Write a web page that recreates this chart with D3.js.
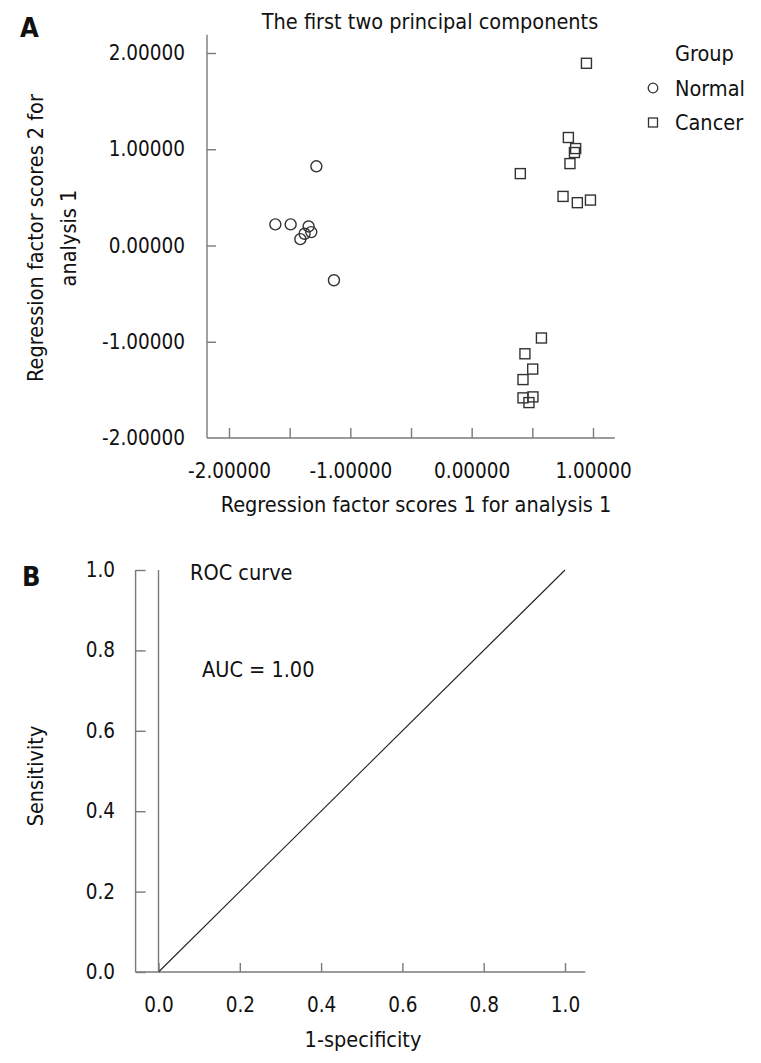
<!DOCTYPE html>
<html>
<head>
<meta charset="utf-8">
<script src="https://cdn.jsdelivr.net/npm/d3@7"></script>
<style>
  html, body { margin: 0; padding: 0; background: #fff; }
  svg text { font-family: "DejaVu Sans Condensed", "DejaVu Sans", sans-serif; fill: #111; }
</style>
</head>
<body>
<svg id="chart" width="761" height="1063"></svg>
<script>
// ---- Panel A data (PCA scores) ----
const normalX = [-1.280, -1.618, -1.492, -1.344, -1.377, -1.322, -1.412, -1.135];
const normalY = [0.823, 0.219, 0.219, 0.198, 0.122, 0.139, 0.066, -0.361];
const cancerX = [0.946, 0.797, 0.857, 0.847, 0.810, 0.401, 0.753, 0.871, 0.979,
                 0.575, 0.439, 0.503, 0.423, 0.423, 0.505, 0.472];
const cancerY = [1.893, 1.122, 1.007, 0.966, 0.851, 0.747, 0.510, 0.445, 0.472,
                 -0.961, -1.125, -1.284, -1.393, -1.583, -1.573, -1.632];
const xTicksA = [-2, -1.5, -1, -0.5, 0, 0.5, 1];
const yTicksA = [-2, -1, 0, 1, 2];
const groups = ["Normal", "Cancer"];

// ---- Panel B data (ROC) ----
const rocX = [0, 0];
const rocY = [0, 1];
const refX = [0, 1];
const refY = [0, 1];
const xTicksB = [0, 0.2, 0.4, 0.6, 0.8, 1.0];
const yTicksB = [0, 0.2, 0.4, 0.6, 0.8, 1.0];

const svg = d3.select("#chart");
const AX = "#7a7a7a";
const FS = 20.5;
const FT = 21.5;

// ================= Panel A =================
const xA = d3.scaleLinear().domain([-2, 1]).range([229, 593]);
const yA = d3.scaleLinear().domain([-2, 2]).range([438, 53]);
const gA = svg.append("g");
const axLeftA = 207, axBottomA = 438;

gA.append("line").attr("x1", axLeftA).attr("x2", axLeftA)
  .attr("y1", yA(2.19)).attr("y2", axBottomA)
  .attr("stroke", AX).attr("stroke-width", 1.4);
gA.append("line").attr("x1", axLeftA).attr("x2", xA(1.18))
  .attr("y1", axBottomA).attr("y2", axBottomA)
  .attr("stroke", AX).attr("stroke-width", 1.4);

const fmt5 = d => d3.format(".5f")(d).replace("−", "-");

const xAxA = gA.append("g").attr("transform", `translate(0,${axBottomA})`)
  .call(d3.axisBottom(xA).tickValues(xTicksA).tickSizeInner(-10).tickSizeOuter(0).tickPadding(25)
    .tickFormat(d => Number.isInteger(d) ? fmt5(d) : ""));
const yAxA = gA.append("g").attr("transform", `translate(${axLeftA},0)`)
  .call(d3.axisLeft(yA).tickValues(yTicksA).tickSizeInner(-9).tickSizeOuter(0).tickPadding(22)
    .tickFormat(fmt5));
[xAxA, yAxA].forEach(g => {
  g.select(".domain").remove();
  g.selectAll(".tick line").attr("stroke", AX).attr("stroke-width", 1.4);
  g.selectAll(".tick text").attr("font-size", FS).attr("font-family", null).attr("fill", "#111");
});
yAxA.selectAll(".tick").filter(d => d === -2).select("line").remove();

gA.append("g").selectAll("circle").data(normalX.map((x, i) => [x, normalY[i]]))
  .join("circle")
  .attr("cx", d => xA(d[0])).attr("cy", d => yA(d[1])).attr("r", 5.5)
  .attr("fill", "none").attr("stroke", "#333").attr("stroke-width", 1.4);
const sq = 10;
gA.append("g").selectAll("rect").data(cancerX.map((x, i) => [x, cancerY[i]]))
  .join("rect")
  .attr("x", d => xA(d[0]) - sq / 2).attr("y", d => yA(d[1]) - sq / 2)
  .attr("width", sq).attr("height", sq)
  .attr("fill", "none").attr("stroke", "#333").attr("stroke-width", 1.4);

svg.append("text").attr("x", 430).attr("y", 29).attr("text-anchor", "middle")
  .attr("font-size", 21.5).text("The first two principal components");
svg.append("text").attr("x", 416).attr("y", 512).attr("text-anchor", "middle")
  .attr("font-size", FT).text("Regression factor scores 1 for analysis 1");
const yt = svg.append("text").attr("transform", "translate(43,238) rotate(-90)")
  .attr("text-anchor", "middle").attr("font-size", FT);
yt.append("tspan").attr("x", 0).attr("y", 0).text("Regression factor scores 2 for");
yt.append("tspan").attr("x", 0).attr("y", 33).text("analysis 1");

svg.append("text").attr("x", 675).attr("y", 53).attr("dominant-baseline", "central")
  .attr("font-size", FT).text("Group");
const leg = svg.append("g").selectAll("g").data(groups).join("g")
  .attr("transform", (d, i) => `translate(653,${88 + i * 34.5})`);
leg.filter(d => d === "Normal").append("circle").attr("r", 4.8)
  .attr("fill", "none").attr("stroke", "#333").attr("stroke-width", 1.3);
leg.filter(d => d === "Cancer").append("rect").attr("x", -4.5).attr("y", -4.5)
  .attr("width", 9).attr("height", 9)
  .attr("fill", "none").attr("stroke", "#333").attr("stroke-width", 1.3);
leg.append("text").attr("x", 22).attr("dominant-baseline", "central")
  .attr("font-size", FT).text(d => d);

svg.append("text").attr("x", 20).attr("y", 37).attr("font-size", 27)
  .attr("font-weight", "bold").attr("font-family", "DejaVu Sans, sans-serif").text("A");

// ================= Panel B =================
const xB = d3.scaleLinear().domain([0, 1]).range([158.5, 565]);
const yB = d3.scaleLinear().domain([0, 1]).range([972, 570]);
const gB = svg.append("g");
const axLeftB = 135.6, axBottomB = 972;

gB.append("line").attr("x1", axLeftB).attr("x2", axLeftB)
  .attr("y1", yB(1)).attr("y2", axBottomB)
  .attr("stroke", AX).attr("stroke-width", 1.4);
gB.append("line").attr("x1", axLeftB).attr("x2", xB(1.05))
  .attr("y1", axBottomB).attr("y2", axBottomB)
  .attr("stroke", AX).attr("stroke-width", 1.4);

const fmt1 = d3.format(".1f");
const xAxB = gB.append("g").attr("transform", `translate(0,${axBottomB})`)
  .call(d3.axisBottom(xB).tickValues(xTicksB).tickSizeInner(-9).tickSizeOuter(0).tickPadding(25)
    .tickFormat(fmt1));
const yAxB = gB.append("g").attr("transform", `translate(${axLeftB},0)`)
  .call(d3.axisLeft(yB).tickValues(yTicksB).tickSizeInner(-10).tickSizeOuter(0).tickPadding(20.5)
    .tickFormat(fmt1));
[xAxB, yAxB].forEach(g => {
  g.select(".domain").remove();
  g.selectAll(".tick line").attr("stroke", AX).attr("stroke-width", 1.4);
  g.selectAll(".tick text").attr("font-size", FS).attr("font-family", null).attr("fill", "#111");
});

const lineB = d3.line().x(d => xB(d[0])).y(d => yB(d[1]));
gB.append("path").datum(refX.map((x, i) => [x, refY[i]]))
  .attr("d", lineB).attr("fill", "none").attr("stroke", "#222").attr("stroke-width", 1.1);
gB.append("path").datum(rocX.map((x, i) => [x, rocY[i]]))
  .attr("d", lineB).attr("fill", "none").attr("stroke", AX).attr("stroke-width", 1.4);

svg.append("text").attr("x", 190).attr("y", 572).attr("dominant-baseline", "central")
  .attr("font-size", FT).text("ROC curve");
svg.append("text").attr("x", 202).attr("y", 669).attr("dominant-baseline", "central")
  .attr("font-size", FT).text("AUC = 1.00");
svg.append("text").attr("x", 363).attr("y", 1039).attr("text-anchor", "middle")
  .attr("dominant-baseline", "central").attr("font-size", FT).text("1-specificity");
svg.append("text").attr("transform", "translate(35,776) rotate(-90)")
  .attr("text-anchor", "middle").attr("dominant-baseline", "central")
  .attr("font-size", FT).text("Sensitivity");
svg.append("text").attr("x", 22).attr("y", 586).attr("font-size", 27)
  .attr("font-weight", "bold").attr("font-family", "DejaVu Sans, sans-serif").text("B");
</script>
</body>
</html>
